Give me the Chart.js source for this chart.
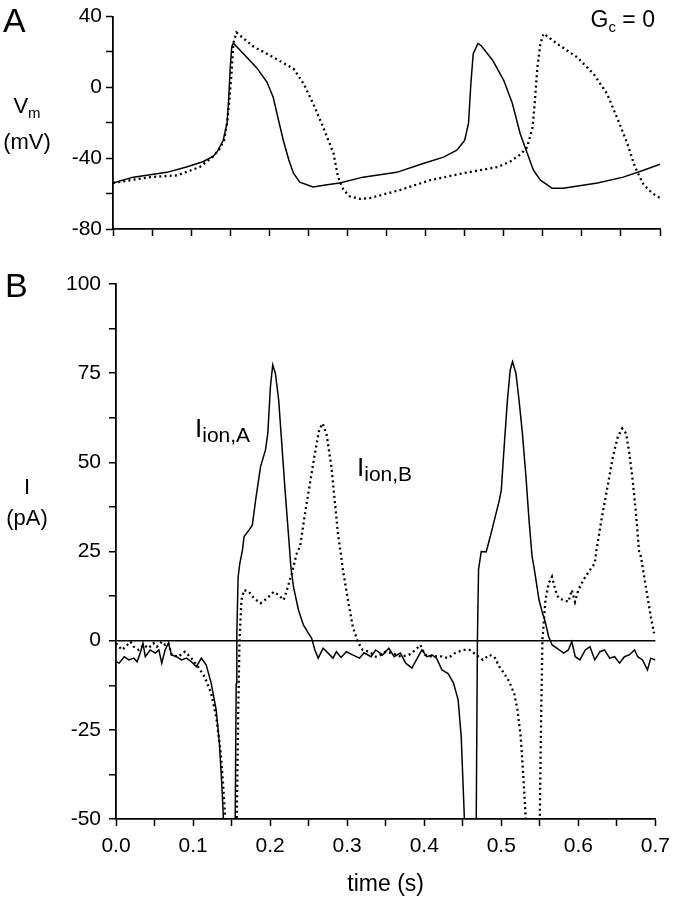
<!DOCTYPE html>
<html>
<head>
<meta charset="utf-8">
<script src="https://cdn.jsdelivr.net/npm/chart.js@4.4.1/dist/chart.umd.min.js"></script>
<style>
  body { margin: 0; background: #fff; }
  #page { position: relative; width: 678px; height: 899px; overflow: hidden; }
  canvas { position: absolute; left: 0; }
  #chartA { top: 0; }
  #chartB { top: 255px; }
  .lbl {
    position: absolute; color: #000; line-height: 1; white-space: nowrap;
    font-family: "Liberation Sans", Arial, Helvetica, sans-serif;
  }
  .sub { position: relative; }
  .ctr { width: 54px; text-align: center; }
</style>
</head>
<body>
<div id="page">
  <canvas id="chartA" width="678" height="250"></canvas>
  <canvas id="chartB" width="678" height="644"></canvas>

  <div class="lbl" style="left:3px; top:3px; font-size:34px;">A</div>
  <div class="lbl" style="left:5px; top:268px; font-size:34px;">B</div>

  <div class="lbl ctr" style="left:0; top:95px; font-size:22px;">V<span class="sub" style="font-size:15px; top:5px;">m</span></div>
  <div class="lbl ctr" style="left:0; top:131px; font-size:22px;">(mV)</div>

  <div class="lbl ctr" style="left:0; top:476px; font-size:22px;">I</div>
  <div class="lbl ctr" style="left:0; top:507px; font-size:22px;">(pA)</div>

  <div class="lbl" style="right:23px; top:8px; font-size:23px;">G<span class="sub" style="font-size:15px; top:5px;">c</span> = 0</div>

  <div class="lbl" style="left:195px; top:415px; font-size:26px;">I<span class="sub" style="font-size:21px; top:5px;">ion,A</span></div>
  <div class="lbl" style="left:357px; top:454px; font-size:26px;">I<span class="sub" style="font-size:21px; top:5px;">ion,B</span></div>
</div>

<script>
// ---- panel A: membrane potential (mV) ----
const timeVmA = [
  0, 0.026, 0.069, 0.094, 0.115, 0.128, 0.133, 0.141, 0.146, 0.148,
  0.150, 0.152, 0.154, 0.167, 0.184, 0.197, 0.205, 0.211, 0.218, 0.225,
  0.231, 0.239, 0.256, 0.274, 0.29, 0.32, 0.363, 0.397, 0.423, 0.44,
  0.45, 0.455, 0.458, 0.461, 0.467, 0.471, 0.486, 0.5, 0.511, 0.521,
  0.53, 0.538, 0.547, 0.562, 0.576, 0.62, 0.653, 0.679, 0.7
];
const vmA = [
  -54, -50.7, -48, -45, -42, -39, -36.5, -30, -20, -7,
  11, 23, 25, 19, 11, 3, -5.6, -17, -30, -41,
  -48.5, -53.5, -56.3, -55, -54, -50.7, -48, -43, -39.4, -35.5,
  -30, -20, 2.3, 19, 24.8, 23.7, 15.2, 4, -9, -26,
  -37, -46.8, -52.4, -57, -57, -54, -50.7, -46.8, -43.4
];

const timeVmB = [
  0, 0.047, 0.082, 0.111, 0.128, 0.136, 0.142, 0.146, 0.149, 0.152,
  0.154, 0.158, 0.18, 0.205, 0.231, 0.244, 0.256, 0.269, 0.282, 0.288,
  0.295, 0.303, 0.316, 0.329, 0.367, 0.406, 0.448, 0.492, 0.508, 0.521,
  0.53, 0.537, 0.54, 0.543, 0.547, 0.551, 0.568, 0.594, 0.615, 0.632,
  0.645, 0.658, 0.668, 0.679, 0.69, 0.7
];
const vmB = [
  -54, -50.7, -49.7, -45, -39, -35, -30, -20, -7, 10,
  25, 31, 23, 17, 10.6, 2, -9, -22.5, -37, -50.7,
  -58, -61.5, -63, -62.5, -58, -52.4, -48.5, -45, -42, -38,
  -33.8, -22.5, -7, 11, 24.8, 30.4, 24.8, 17, 7.6, -3.4,
  -17, -31.5, -45, -55, -59.7, -62.5
];

// ---- panel B: ionic currents (pA) ----
const timeIA = [
  0, 0.004, 0.0107, 0.0167, 0.0231, 0.0274, 0.032, 0.035, 0.038, 0.0444,
  0.051, 0.0556, 0.0594, 0.0637, 0.068, 0.0722, 0.0786, 0.085, 0.0915, 0.0979,
  0.1043, 0.1107, 0.117, 0.1235, 0.130, 0.1342, 0.1372, 0.1393, 0.1405, 0.1535,
  0.1547, 0.156, 0.1568, 0.1585, 0.1607, 0.1641, 0.1662, 0.1726, 0.1769, 0.1812,
  0.1876, 0.194, 0.197, 0.2004, 0.2034, 0.2068, 0.2111, 0.2154, 0.2197, 0.224,
  0.2269, 0.2303, 0.2368, 0.2432, 0.2496, 0.2538, 0.2581, 0.2624, 0.2688, 0.2752,
  0.2816, 0.286, 0.292, 0.299, 0.307, 0.316, 0.322, 0.331, 0.337, 0.346,
  0.354, 0.361, 0.369, 0.376, 0.384, 0.391, 0.397, 0.4035, 0.41, 0.416,
  0.423, 0.431, 0.438, 0.444, 0.448, 0.452, 0.4535, 0.4665, 0.4675, 0.469,
  0.4705, 0.474, 0.4804, 0.4868, 0.491, 0.4975, 0.5, 0.504, 0.508, 0.5116,
  0.5146, 0.519, 0.523, 0.5274, 0.532, 0.536, 0.540, 0.5423, 0.549, 0.553,
  0.557, 0.5615, 0.566, 0.572, 0.581, 0.587, 0.5915, 0.596, 0.602, 0.609,
  0.615, 0.6214, 0.628, 0.634, 0.6406, 0.647, 0.6535, 0.6598, 0.666, 0.673,
  0.677, 0.6833, 0.6897, 0.694, 0.7
];
const ionA = [
  -5.9, -6.3, -4.5, -5.4, -4.9, -5.9, -3.1, -0.7, -4.5, -2.6,
  -3.5, -2.6, -6.3, -2.6, -0.7, -4.0, -4.5, -5.4, -4.9, -5.9,
  -7.3, -4.9, -6.8, -11.9, -19.4, -28.8, -40, -49.3, -130, -130,
  -49.3, -12, 2.1, 17.9, 21.7, 25.4, 29.2, 31, 32.4, 39.4,
  48.8, 53.5, 58.1, 71.2, 77.3, 75, 67.5, 54.4, 41.3, 29.2,
  20.8, 15.1, 8.6, 4.4, 2.1, 0.7, -2.6, -4.9, -2.1, -3.5,
  -4.9, -3.1, -4.7, -3.1, -4.0, -4.9, -3.4, -4.5, -2.6, -4.0,
  -2.1, -4.5, -3.5, -6.3, -7.7, -4.9, -2.6, -4.5, -4.0, -4.9,
  -8.2, -9.2, -11.9, -16.6, -26.9, -49.3, -130, -130, -50, 0,
  20, 25, 24.9, 30.1, 33.8, 39.4, 42.2, 55.3, 67.5, 75.9,
  78.2, 75, 67.5, 58.1, 46, 33.8, 23.5, 20.8, 11.4, 8.1,
  5.3, 1.1, -1.2, -2.1, -3.5, -2.6, -0.3, -4.5, -5.4, -2.6,
  -1.7, -5.4, -3.1, -2.6, -4.9, -4.5, -6.3, -4.5, -4.0, -2.6,
  -4.5, -5.4, -8.2, -4.9, -5.4
];

const timeIB = [
  0, 0.004, 0.0081, 0.0145, 0.0188, 0.0231, 0.0295, 0.0359, 0.0423, 0.0487,
  0.053, 0.0594, 0.0637, 0.068, 0.0722, 0.0808, 0.0893, 0.0979, 0.1064, 0.115,
  0.1235, 0.13, 0.1355, 0.1389, 0.1415, 0.143, 0.1555, 0.1568, 0.1585, 0.1603,
  0.1628, 0.1662, 0.1726, 0.179, 0.1876, 0.1962, 0.2047, 0.2111, 0.2175, 0.2218,
  0.2282, 0.2346, 0.2389, 0.2453, 0.2517, 0.2581, 0.2637, 0.268, 0.2731, 0.2795,
  0.2838, 0.288, 0.2923, 0.2945, 0.301, 0.3073, 0.3137, 0.3201, 0.3287, 0.3372,
  0.3436, 0.35, 0.3586, 0.3693, 0.38, 0.3885, 0.3949, 0.4013, 0.4098, 0.4205,
  0.4312, 0.4397, 0.4504, 0.459, 0.4675, 0.4761, 0.4846, 0.491, 0.4974, 0.5038,
  0.5103, 0.5167, 0.521, 0.5252, 0.5286, 0.5316, 0.533, 0.549, 0.55, 0.5517,
  0.5534, 0.5573, 0.5615, 0.5658, 0.5701, 0.5744, 0.5808, 0.5872, 0.5915, 0.5957,
  0.6, 0.6064, 0.615, 0.6214, 0.6235, 0.6299, 0.6363, 0.6449, 0.6513, 0.6569,
  0.662, 0.6662, 0.6705, 0.6748, 0.679, 0.6812, 0.6855, 0.6897, 0.694, 0.6983
];
const ionB = [
  -0.7, -1.7, -2.6, -1.2, -0.3, -1.7, -2.6, -1.2, -2.1, -0.7,
  -1.7, -0.3, -1.2, -0.7, -4.0, -4.5, -3.1, -4.9, -7.3, -10.1,
  -14.8, -21.3, -30.6, -40, -49.3, -130, -130, -49.3, -21.3, 0.2,
  11.4, 14.2, 13.7, 11.9, 10.5, 11.9, 13.7, 12.8, 11.4, 14.2,
  18.9, 24.5, 26.4, 35.7, 44.1, 52.5, 59.1, 60.9, 58.1, 48.8,
  39.4, 30.1, 23.5, 19.8, 11.4, 3.9, -0.3, -2.6, -3.1, -4.5,
  -4.0, -3.1, -3.5, -4.5, -4.0, -2.6, -1.2, -4.0, -4.5, -4.3,
  -4.9, -3.5, -2.6, -2.6, -4.0, -5.4, -4.0, -4.5, -7.3, -9.2,
  -11.5, -14.8, -19.4, -26.9, -38.1, -49.3, -130, -130, -49.3, -21.3,
  0.2, 11.4, 16.1, 17.9, 14.2, 11.9, 11.4, 10.9, 14.2, 10.9,
  14.2, 17, 19.8, 21.7, 25.4, 33.8, 41.3, 51.6, 57.2, 59.5,
  58.1, 52.5, 45, 35.7, 24.5, 23.6, 17.9, 12.3, 6.7, 2.1
];

const FONT = '"Liberation Sans", Arial, Helvetica, sans-serif';
const tickFont = { family: FONT, size: 21 };

function pairs(xs, ys) {
    return xs.map((x, i) => ({ x: x, y: ys[i] }));
}

function solid(label, data) {
    return { label, data, borderColor: '#000', borderWidth: 1.5, pointRadius: 0, clip: 0 };
}

function dotted(label, data) {
    return { label, data, borderColor: '#000', borderWidth: 2.3, borderDash: [2, 3.2],
             pointRadius: 0, clip: 0 };
}

function tickGrid(extra) {
    return Object.assign({
        drawOnChartArea: false, tickLength: 7, tickColor: '#000', tickWidth: 1.5
    }, extra || {});
}

const axisBorder = { color: '#000', width: 1.8 };

// top panel
new Chart(document.getElementById('chartA'), {
    type: 'line',
    data: {
        datasets: [
            solid('Vm cell A', pairs(timeVmA, vmA)),
            dotted('Vm cell B', pairs(timeVmB, vmB))
        ]
    },
    options: {
        responsive: false,
        animation: false,
        layout: { padding: { left: 0, right: 18, top: 16, bottom: 0 } },
        plugins: { legend: { display: false }, tooltip: { enabled: false } },
        scales: {
            x: {
                type: 'linear', min: 0, max: 0.7,
                ticks: { stepSize: 0.05, autoSkip: false, maxRotation: 0, callback: () => '', font: tickFont },
                grid: tickGrid(),
                border: axisBorder,
                afterFit: (s) => { s.height = 21; }
            },
            y: {
                min: -80, max: 40,
                ticks: {
                    stepSize: 20, autoSkip: false, color: '#000', font: tickFont, padding: 4,
                    callback: (v) => (v % 40 === 0 ? String(v) : '')
                },
                grid: tickGrid(),
                border: axisBorder,
                afterFit: (s) => { s.width = 113; }
            }
        }
    }
});

// bottom panel
new Chart(document.getElementById('chartB'), {
    type: 'line',
    data: {
        datasets: [
            solid('Iion,A', pairs(timeIA, ionA)),
            dotted('Iion,B', pairs(timeIB, ionB))
        ]
    },
    options: {
        responsive: false,
        animation: false,
        layout: { padding: { left: 0, right: 16, top: 29, bottom: 0 } },
        plugins: { legend: { display: false }, tooltip: { enabled: false } },
        scales: {
            x: {
                type: 'linear', min: 0, max: 0.7,
                ticks: {
                    stepSize: 0.05, autoSkip: false, maxRotation: 0, color: '#000', font: tickFont, padding: 8,
                    callback: (v) => {
                        const k = Math.round(v * 20);
                        return k % 2 === 0 ? (k / 20).toFixed(1) : '';
                    }
                },
                grid: tickGrid(),
                border: axisBorder,
                title: {
                    display: true, text: 'time (s)', color: '#000',
                    font: { family: FONT, size: 23 }, padding: { top: 0, bottom: 1 }
                },
                afterFit: (s) => { s.height = 80; }
            },
            y: {
                min: -50, max: 100,
                ticks: {
                    stepSize: 12.5, autoSkip: false, color: '#000', font: tickFont, padding: 8,
                    callback: (v) => (v % 25 === 0 ? String(v) : '')
                },
                grid: tickGrid({
                    drawOnChartArea: true,
                    color: (ctx) => (ctx.tick && ctx.tick.value === 0 ? '#000' : 'rgba(0,0,0,0)'),
                    lineWidth: 1.5
                }),
                border: axisBorder,
                afterFit: (s) => { s.width = 116; }
            }
        }
    }
});
</script>
</body>
</html>
